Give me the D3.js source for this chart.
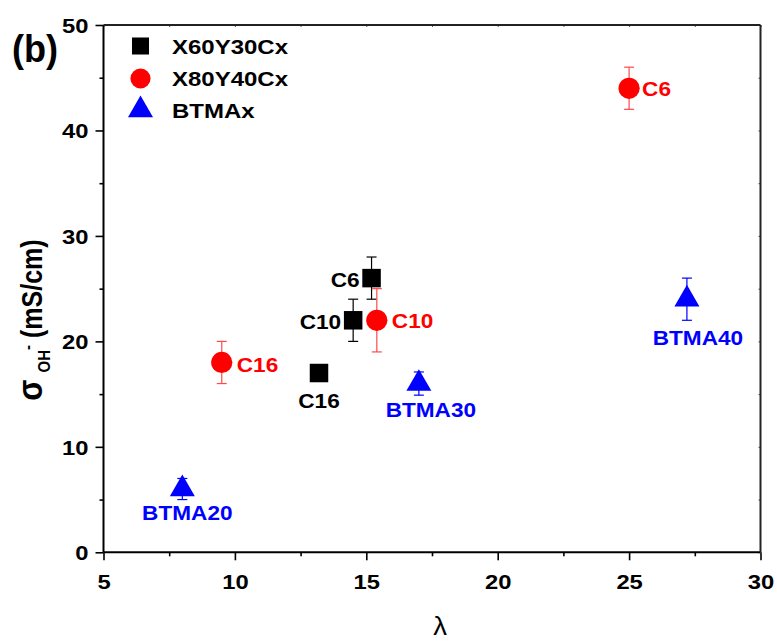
<!DOCTYPE html>
<html>
<head>
<meta charset="utf-8">
<script src="https://cdn.jsdelivr.net/npm/d3@7"></script>
<style>
  html, body { margin: 0; padding: 0; background: #fff; }
  svg { display: block; }
  text { font-family: "Liberation Sans", Arial, sans-serif; }
</style>
</head>
<body>
<svg id="chart" width="777" height="641"></svg>
<script>
// ---------------- data ----------------
const seriesNames = ["X60Y30Cx", "X80Y40Cx", "BTMAx"];

const x60Lambda = [15.2, 14.5, 13.2];
const x60Sigma  = [26, 22, 17];
const x60Err    = [2, 2, 0.6];
const x60Labels = ["C6", "C10", "C16"];

const x80Lambda = [25, 15.4, 9.5];
const x80Sigma  = [44, 22, 18];
const x80Err    = [2, 3, 2];
const x80Labels = ["C6", "C10", "C16"];

const btmaLambda = [8, 17, 27.2];
const btmaSigma  = [6, 16, 24];
const btmaErr    = [1, 1.1, 2];
const btmaLabels = ["BTMA20", "BTMA30", "BTMA40"];

const xTicks = [5, 10, 15, 20, 25, 30];
const yTicks = [0, 10, 20, 30, 40, 50];

// ---------------- style ----------------
const styles = [
  { color: "#000000", err: "#000000", shape: "square",
    labelOffsets: [{dx: -12, dy: 9, anchor: "end"}, {dx: -12, dy: 9, anchor: "end"}, {dx: 0, dy: 35, anchor: "middle"}] },
  { color: "#ff0000", err: "#ff4a4a", shape: "circle",
    labelOffsets: [{dx: 13, dy: 8, anchor: "start"}, {dx: 15, dy: 8, anchor: "start"}, {dx: 15, dy: 10, anchor: "start"}] },
  { color: "#0000ff", err: "#0000ff", shape: "triangle",
    labelOffsets: [{dx: 5, dy: 31, anchor: "middle"}, {dx: 12, dy: 33, anchor: "middle"}, {dx: 11, dy: 46, anchor: "middle"}] }
];
const SX = 1.16; // horizontal stretch of the reference's lettering

const series = [
  {name: seriesNames[0], xs: x60Lambda, ys: x60Sigma, es: x60Err, ls: x60Labels},
  {name: seriesNames[1], xs: x80Lambda, ys: x80Sigma, es: x80Err, ls: x80Labels},
  {name: seriesNames[2], xs: btmaLambda, ys: btmaSigma, es: btmaErr, ls: btmaLabels}
].map((s, i) => ({...s, style: styles[i],
  points: s.xs.map((x, j) => ({x, y: s.ys[j], e: s.es[j], label: s.ls[j], off: styles[i].labelOffsets[j]}))}));

// ---------------- layout ----------------
const L = 103.5, R = 760.5, T = 25, B = 552.3;
const svg = d3.select("#chart");
const x = d3.scaleLinear().domain([5, 30]).range([L, R]);
const y = d3.scaleLinear().domain([0, 50]).range([B, T]);

const minorX = d3.range(7.5, 30, 5);
const minorY = d3.range(5, 50, 10);

function styleAxis(g, sw, col) {
  g.select(".domain").remove();
  g.selectAll(".tick line").attr("stroke", col).attr("stroke-width", sw);
}

// bottom axis major
const gB = svg.append("g").attr("transform", `translate(0,${B})`)
  .call(d3.axisBottom(x).tickValues(xTicks).tickSize(8).tickFormat(d3.format("d")));
styleAxis(gB, 1.6, "#000");
gB.selectAll(".tick text")
  .attr("y", 0).attr("dy", 0)
  .attr("transform", `translate(0,37) scale(${SX},1)`)
  .attr("font-size", 20.5).attr("font-weight", "bold").attr("fill", "#000")
  .attr("font-family", "'Liberation Sans', Arial, sans-serif");
// bottom minor
svg.append("g").attr("transform", `translate(0,${B})`)
  .call(d3.axisBottom(x).tickValues(minorX).tickSize(4).tickFormat(""))
  .call(g => styleAxis(g, 1.6, "#000"));

// left axis major
const gL = svg.append("g").attr("transform", `translate(${L},0)`)
  .call(d3.axisLeft(y).tickValues(yTicks).tickSize(8).tickFormat(d3.format("d")));
styleAxis(gL, 1.6, "#000");
gL.selectAll(".tick text")
  .attr("x", 0).attr("dy", 0)
  .attr("transform", `translate(-15,7.5) scale(${SX},1)`)
  .attr("font-size", 20.5).attr("font-weight", "bold").attr("fill", "#000")
  .attr("font-family", "'Liberation Sans', Arial, sans-serif");
svg.append("g").attr("transform", `translate(${L},0)`)
  .call(d3.axisLeft(y).tickValues(minorY).tickSize(4).tickFormat(""))
  .call(g => styleAxis(g, 1.6, "#000"));

// top & right axes with tiny inward ticks
svg.append("g").attr("transform", `translate(0,${T})`)
  .call(d3.axisBottom(x).tickValues(xTicks.concat(minorX)).tickSize(2).tickFormat(""))
  .call(g => styleAxis(g, 1, "#555"));
svg.append("g").attr("transform", `translate(${R},0)`)
  .call(d3.axisLeft(y).tickValues(yTicks.concat(minorY)).tickSize(2).tickFormat(""))
  .call(g => styleAxis(g, 1, "#555"));

// frame
svg.append("line").attr("x1", L).attr("x2", R).attr("y1", B).attr("y2", B).attr("stroke", "#000").attr("stroke-width", 2);
svg.append("line").attr("x1", L).attr("x2", L).attr("y1", T).attr("y2", B).attr("stroke", "#000").attr("stroke-width", 2);
svg.append("line").attr("x1", L).attr("x2", R).attr("y1", T).attr("y2", T).attr("stroke", "#222").attr("stroke-width", 2);
svg.append("line").attr("x1", R).attr("x2", R).attr("y1", T).attr("y2", B).attr("stroke", "#222").attr("stroke-width", 2);

// ---------------- markers ----------------
function drawMarker(g, shape, cx, cy, color, scale) {
  const k = scale || 1;
  if (shape === "square") {
    const s = 18.5 * k;
    g.append("rect").attr("x", cx - s / 2).attr("y", cy - s / 2).attr("width", s).attr("height", s).attr("fill", color);
  } else if (shape === "circle") {
    g.append("circle").attr("cx", cx).attr("cy", cy).attr("r", 10.6 * k).attr("fill", color);
  } else {
    const side = 25 * k, h = side * Math.sqrt(3) / 2;
    g.append("path")
      .attr("d", `M${cx},${cy - 2 * h / 3}L${cx + side / 2},${cy + h / 3}L${cx - side / 2},${cy + h / 3}Z`)
      .attr("fill", color);
  }
}

const plot = svg.append("g");
const cap = 5;
series.forEach(s => {
  const g = plot.append("g");
  s.points.forEach(p => {
    const px = x(p.x), py = y(p.y);
    const eb = g.append("g").attr("stroke", s.style.err).attr("stroke-width", 1.2).attr("fill", "none");
    eb.append("line").attr("x1", px).attr("x2", px).attr("y1", y(p.y + p.e)).attr("y2", y(p.y - p.e));
    eb.append("line").attr("x1", px - cap).attr("x2", px + cap).attr("y1", y(p.y + p.e)).attr("y2", y(p.y + p.e));
    eb.append("line").attr("x1", px - cap).attr("x2", px + cap).attr("y1", y(p.y - p.e)).attr("y2", y(p.y - p.e));
  });
  s.points.forEach(p => drawMarker(g, s.style.shape, x(p.x), y(p.y), s.style.color));
  s.points.forEach(p => {
    g.append("text")
      .attr("transform", `translate(${x(p.x) + p.off.dx},${y(p.y) + p.off.dy}) scale(${SX},1)`)
      .attr("text-anchor", p.off.anchor)
      .attr("font-size", 19.5).attr("font-weight", "bold").attr("fill", s.style.color)
      .text(p.label);
  });
});

// ---------------- legend ----------------
const legendY = [46, 78.5, 110];
const lg = svg.append("g");
series.forEach((s, i) => {
  drawMarker(lg, s.style.shape, 140.5, legendY[i], s.style.color, s.style.shape === "square" ? 0.92 : (s.style.shape === "circle" ? 0.95 : 1));
  lg.append("text")
    .attr("transform", `translate(172,${legendY[i] + 7.5}) scale(1.2,1)`)
    .attr("font-size", 20).attr("font-weight", "bold").attr("fill", "#000")
    .text(s.name);
});

// panel tag
svg.append("text")
  .attr("transform", "translate(12,62) scale(0.95,1)")
  .attr("font-size", 38).attr("font-weight", "bold").attr("fill", "#000")
  .text("(b)");

// axis titles
svg.append("text")
  .attr("transform", "translate(440,635) scale(1.1,1)")
  .attr("text-anchor", "middle").attr("font-size", 25).attr("fill", "#000")
  .text("λ");

const yt = svg.append("text")
  .attr("transform", "translate(42,320) rotate(-90) scale(1,1.16)")
  .attr("text-anchor", "middle").attr("font-size", 25).attr("font-weight", "bold").attr("fill", "#000");
yt.append("tspan").attr("font-size", 31).text("σ");
yt.append("tspan").attr("font-size", 15).attr("dx", 7).attr("dy", 7).text("OH");
yt.append("tspan").attr("font-size", 15).attr("dy", -15).text("-");
yt.append("tspan").attr("dx", 7).attr("dy", 8).text("(mS/cm)");
</script>
</body>
</html>
